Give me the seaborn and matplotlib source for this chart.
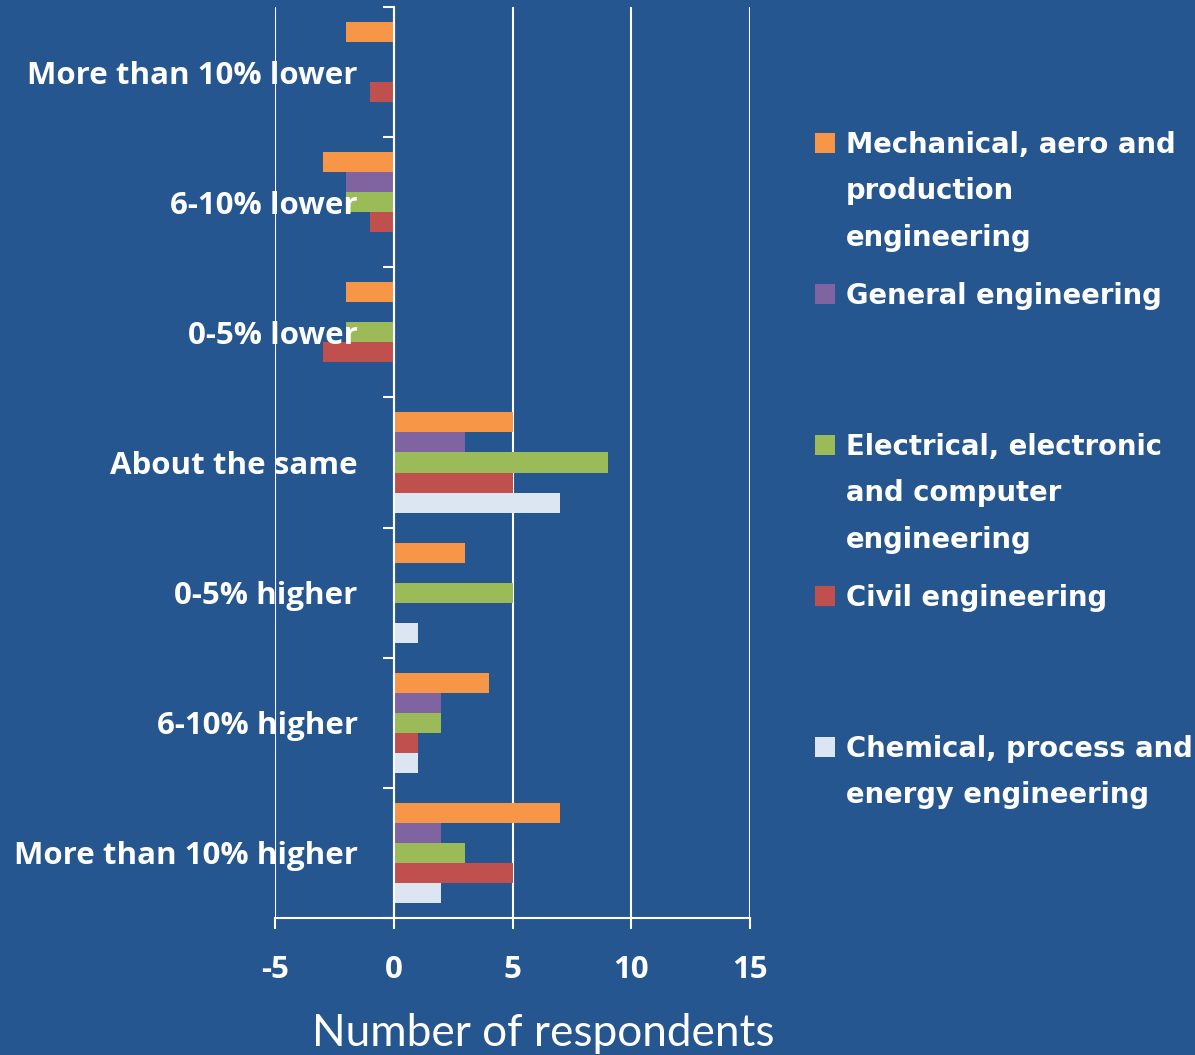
import numpy as np
import pandas as pd
import matplotlib.pyplot as plt
import seaborn as sns
from matplotlib.patches import Rectangle

# Data
categories = ['More than 10% lower', '6-10% lower', '0-5% lower', 'About the same',
              '0-5% higher', '6-10% higher', 'More than 10% higher']
series = ['Mechanical, aero and production engineering', 'General engineering',
          'Electrical, electronic and computer engineering', 'Civil engineering',
          'Chemical, process and energy engineering']
legend_labels = ['Mechanical, aero and\nproduction\nengineering', 'General engineering',
                 'Electrical, electronic\nand computer\nengineering', 'Civil engineering',
                 'Chemical, process and\nenergy engineering']
mech = [-2, -3, -2, 5, 3, 4, 7]
general = [0, -2, 0, 3, 0, 2, 2]
electrical = [0, -2, -2, 9, 5, 2, 3]
civil = [-1, -1, -3, 5, 0, 1, 5]
chemical = [0, 0, 0, 7, 1, 1, 2]
colors = ['#F79646', '#8064A2', '#9BBB59', '#C0504D', '#DCE6F2']

values = [mech, general, electrical, civil, chemical]
rows = []
for s, vals in zip(series, values):
    for c, v in zip(categories, vals):
        rows.append({'category': c, 'series': s, 'count': v})
df = pd.DataFrame(rows)

plt.rcParams['axes.unicode_minus'] = False
bg = '#26568F'
W, H = 1195, 1055
fig = plt.figure(figsize=(W / 100, H / 100), dpi=100)
fig.patch.set_facecolor(bg)
ax = fig.add_axes([275 / W, 1 - 918 / H, 475 / W, 911 / H])
ax.set_facecolor(bg)

sns.barplot(data=df, y='category', x='count', hue='series', order=categories,
            hue_order=series, palette=colors, saturation=1, orient='h', width=0.77,
            legend=False, ax=ax, zorder=3, linewidth=0)

ax.set_xlim(-5, 15)
ax.set_xticks([-5, 0, 5, 10, 15])
ax.grid(axis='x', color='white', linewidth=1.5)
ax.grid(axis='y', visible=False)
ax.xaxis.set_zorder(0.5)
ax.yaxis.set_zorder(5)
for side in ['top', 'right']:
    ax.spines[side].set_visible(False)
ax.spines['left'].set_position(('data', 0))
ax.spines['left'].set_color('white')
ax.spines['left'].set_linewidth(1.5)
ax.spines['left'].set_zorder(4)
ax.spines['bottom'].set_color('white')
ax.spines['bottom'].set_linewidth(1.5)

ax.set_yticks(np.arange(-0.5, len(categories), 1), minor=True)
ax.tick_params(axis='y', which='major', length=0, pad=26, labelcolor='white')
ax.tick_params(axis='y', which='minor', length=8, width=1.5, color='white', direction='out')
ax.tick_params(axis='x', length=8, width=1.5, color='white', pad=19, labelcolor='white')
for lbl in ax.get_xticklabels() + ax.get_yticklabels():
    lbl.set_fontproperties({'family': 'Open Sans', 'weight': 'bold', 'size': 22.5})
ax.set_xlabel('')
ax.set_ylabel('')

fig.text(543 / W, 1 - 1033 / H, 'Number of respondents', ha='center', va='center',
         color='white', fontsize=31.8, family='Lato')

# legend, one slot per series
for i, (lab, col) in enumerate(zip(legend_labels, colors)):
    yc = 143 + i * 151
    fig.add_artist(Rectangle((815 / W, 1 - (yc + 10) / H), 20 / W, 20 / H,
                             transform=fig.transFigure, facecolor=col, edgecolor='none'))
    fig.text(846 / W, 1 - (yc - 12) / H, lab, ha='left', va='top', color='white',
             fontsize=19.8, fontweight='bold', family='DejaVu Sans', linespacing=1.84)

fig.savefig('out.png', dpi=100, facecolor=bg)
